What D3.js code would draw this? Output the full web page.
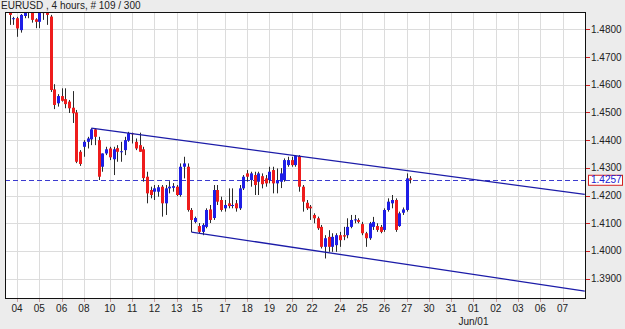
<!DOCTYPE html>
<meta charset="utf-8">
<style>
  body { margin: 0; background: #ececec; }
  svg { display: block; font-family: "Liberation Sans", Arial, sans-serif; }
  .grid line { stroke: #dcdcdc; stroke-width: 1; shape-rendering: crispEdges; }
  .lbl { font-size: 10px; fill: #222; }
</style>
<svg width="625" height="329"></svg>
<script src="https://cdn.jsdelivr.net/npm/d3@7"></script>
<script>
// 4h bars, values
var open = [1.4880,1.4838,1.4840,1.4797,1.4848,1.4862,1.4870,1.4836,1.4827,1.4862,1.4870,1.4846,
  1.4583,1.4533,1.4559,1.4548,1.4539,1.4517,1.4500,1.4358,1.4376,1.4394,1.4403,1.4439,1.4400,1.4304,
  1.4352,1.4370,1.4331,1.4371,1.4358,1.4364,1.4398,1.4425,1.4394,1.4382,1.4367,1.4268,1.4220,1.4214,
  1.4214,1.4232,1.4172,1.4226,1.4228,1.4232,1.4202,1.4304,1.4304,1.4148,1.4105,1.4090,1.4069,1.4087,
  1.4150,1.4119,1.4220,1.4184,1.4154,1.4172,1.4166,1.4172,1.4154,1.4226,1.4280,1.4256,1.4274,1.4250,
  1.4270,1.4262,1.4256,1.4292,1.4244,1.4250,1.4256,1.4310,1.4328,1.4310,1.4343,1.4232,1.4174,1.4160,
  1.4130,1.4118,1.4087,1.4015,1.4051,1.4015,1.4021,1.4057,1.4057,1.4057,1.4087,1.4112,1.4112,1.4097,
  1.4064,1.4046,1.4087,1.4090,1.4087,1.4076,1.4148,1.4172,1.4184,1.4090,1.4138,1.4148,1.4262];
var high = [1.4890,1.4845,1.4845,1.4855,1.4880,1.4875,1.4880,1.4840,1.4885,1.4880,1.4885,1.4852,
  1.4602,1.4566,1.4587,1.4587,1.4545,1.4577,1.4509,1.4364,1.4400,1.4412,1.4443,1.4443,1.4412,1.4352,
  1.4376,1.4376,1.4376,1.4382,1.4394,1.4412,1.4430,1.4427,1.4406,1.4427,1.4376,1.4286,1.4232,1.4238,
  1.4238,1.4238,1.4238,1.4252,1.4245,1.4238,1.4316,1.4340,1.4316,1.4155,1.4124,1.4101,1.4100,1.4154,
  1.4166,1.4238,1.4238,1.4196,1.4184,1.4226,1.4226,1.4184,1.4238,1.4274,1.4292,1.4286,1.4286,1.4286,
  1.4280,1.4274,1.4304,1.4304,1.4298,1.4299,1.4334,1.4340,1.4340,1.4346,1.4346,1.4238,1.4184,1.4166,
  1.4136,1.4124,1.4094,1.4057,1.4075,1.4064,1.4064,1.4069,1.4087,1.4118,1.4130,1.4130,1.4118,1.4105,
  1.4069,1.4105,1.4123,1.4100,1.4094,1.4154,1.4190,1.4202,1.4190,1.4142,1.4157,1.4280,1.4270];
var low = [1.4816,1.4816,1.4773,1.4788,1.4840,1.4840,1.4824,1.4804,1.4804,1.4834,1.4816,1.4574,
  1.4512,1.4521,1.4539,1.4515,1.4498,1.4462,1.4317,1.4307,1.4340,1.4370,1.4382,1.4382,1.4256,1.4286,
  1.4346,1.4328,1.4274,1.4322,1.4322,1.4346,1.4394,1.4388,1.4364,1.4358,1.4250,1.4172,1.4190,1.4184,
  1.4196,1.4124,1.4130,1.4208,1.4214,1.4198,1.4196,1.4262,1.4142,1.4068,1.4100,1.4064,1.4057,1.4082,
  1.4101,1.4112,1.4166,1.4142,1.4142,1.4154,1.4154,1.4142,1.4148,1.4220,1.4250,1.4232,1.4202,1.4202,
  1.4226,1.4232,1.4244,1.4208,1.4208,1.4227,1.4250,1.4304,1.4304,1.4304,1.4214,1.4142,1.4148,1.4112,
  1.4100,1.4076,1.4009,1.3973,1.3997,1.3997,1.3997,1.4015,1.4039,1.4046,1.4082,1.4100,1.4100,1.4057,
  1.4015,1.4040,1.4076,1.4069,1.4064,1.4069,1.4142,1.4154,1.4069,1.4087,1.4130,1.4142,1.4244];
var close = [1.4852,1.4840,1.4803,1.4852,1.4870,1.4863,1.4834,1.4827,1.4870,1.4860,1.4852,1.4581,
  1.4527,1.4559,1.4542,1.4530,1.4515,1.4497,1.4322,1.4314,1.4394,1.4406,1.4439,1.4412,1.4268,1.4352,
  1.4367,1.4338,1.4367,1.4358,1.4360,1.4400,1.4425,1.4423,1.4370,1.4358,1.4263,1.4208,1.4202,1.4226,
  1.4230,1.4172,1.4226,1.4232,1.4234,1.4202,1.4304,1.4316,1.4148,1.4112,1.4119,1.4069,1.4094,1.4148,
  1.4112,1.4220,1.4178,1.4148,1.4166,1.4162,1.4166,1.4154,1.4226,1.4268,1.4268,1.4280,1.4238,1.4280,
  1.4241,1.4244,1.4286,1.4244,1.4256,1.4280,1.4328,1.4328,1.4310,1.4343,1.4232,1.4178,1.4154,1.4154,
  1.4118,1.4082,1.4015,1.4046,1.4015,1.4051,1.4057,1.4039,1.4052,1.4087,1.4112,1.4114,1.4105,1.4064,
  1.4046,1.4100,1.4105,1.4076,1.4069,1.4148,1.4178,1.4184,1.4076,1.4136,1.4150,1.4262,1.4257];

var priceTicks = [1.39, 1.40, 1.41, 1.42, 1.43, 1.44, 1.45, 1.46, 1.47, 1.48];
var dayLabels = ["04","05","06","08","10","11","12","13","15","17","18","19","20","22","24","25","26","27","30","31","01","02","03","06","07"];
var dayBars   = [2, 8, 14, 20, 27, 33, 39, 45, 50.5, 58, 64, 70, 76, 81.5, 89, 95, 101, 107, 113, 119, 125, 131, 137, 143, 149];
var monthLabel = "Jun/01", monthBar = 125;
var lastPrice = 1.4257;
// channel lines: [bar, price]
var upperLine = [[22, 1.4443], [155, 1.4204]];
var lowerLine = [[49, 1.4068], [155, 1.3855]];

var svg = d3.select("svg");
var pLeft = 5, pRight = 585, pTop = 12, pBottom = 298;

var x = d3.scaleLinear().domain([0, 108]).range([9.7, 410.4]);
var y = d3.scaleLinear().domain([1.39, 1.48]).range([278.7, 29.3]);

svg.append("rect").attr("x", pLeft).attr("y", pTop).attr("width", pRight - pLeft).attr("height", pBottom - pTop).attr("fill", "#fff");

svg.append("defs").append("clipPath").attr("id", "plot")
  .append("rect").attr("x", pLeft).attr("y", pTop).attr("width", pRight - pLeft).attr("height", pBottom - pTop);

var grid = svg.append("g").attr("class", "grid");
grid.selectAll(".h").data(priceTicks).enter().append("line")
  .attr("x1", pLeft).attr("x2", pRight)
  .attr("y1", d => Math.round(y(d)) + 0.5).attr("y2", d => Math.round(y(d)) + 0.5);
grid.selectAll(".v").data(dayBars).enter().append("line")
  .attr("y1", pTop).attr("y2", pBottom)
  .attr("x1", d => Math.round(x(d)) + 0.5).attr("x2", d => Math.round(x(d)) + 0.5);

var plot = svg.append("g").attr("clip-path", "url(#plot)");

// last price dashed line
plot.append("line")
  .attr("x1", pLeft).attr("x2", pRight)
  .attr("y1", Math.round(y(lastPrice)) + 0.5).attr("y2", Math.round(y(lastPrice)) + 0.5)
  .attr("stroke", "#3b3bd0").attr("stroke-width", 1.2).attr("stroke-dasharray", "5,3");

var bars = d3.range(open.length);
var candle = plot.selectAll(".c").data(bars).enter().append("g");
candle.append("line")
  .attr("x1", i => Math.round(x(i)) + 0.5).attr("x2", i => Math.round(x(i)) + 0.5)
  .attr("y1", i => y(high[i])).attr("y2", i => y(low[i]))
  .attr("stroke", "#2a2a2a").attr("stroke-width", 1);
candle.append("rect")
  .attr("x", i => Math.round(x(i)) - 1)
  .attr("width", 3)
  .attr("y", i => y(Math.max(open[i], close[i])))
  .attr("height", i => Math.max(1, Math.abs(y(open[i]) - y(close[i]))))
  .attr("fill", i => close[i] >= open[i] ? "#1e1ee6" : "#ee1c1c");

var line = d3.line().x(d => x(d[0])).y(d => y(d[1]));
plot.selectAll(".tl").data([upperLine, lowerLine]).enter().append("path")
  .attr("d", line).attr("fill", "none")
  .attr("stroke", "#1c1ca8").attr("stroke-width", 1.3);

// frame
svg.append("rect").attr("x", pLeft + 0.5).attr("y", pTop + 0.5)
  .attr("width", pRight - pLeft).attr("height", pBottom - pTop)
  .attr("fill", "none").attr("stroke", "#111");

// price axis
var yAxis = svg.append("g");
yAxis.selectAll("line").data(priceTicks).enter().append("line")
  .attr("x1", pRight + 1).attr("x2", pRight + 5)
  .attr("y1", d => Math.round(y(d)) + 0.5).attr("y2", d => Math.round(y(d)) + 0.5)
  .attr("stroke", "#d02020");
yAxis.selectAll("text").data(priceTicks).enter().append("text")
  .attr("class", "lbl")
  .attr("x", pRight + 6).attr("y", d => y(d) + 3.5)
  .text(d => d.toFixed(4));

// last price box
svg.append("rect").attr("x", 588.5).attr("y", y(lastPrice) - 4.5)
  .attr("width", 34).attr("height", 10)
  .attr("fill", "#fff").attr("stroke", "#d42020");
svg.append("text").attr("class", "lbl").attr("x", 591).attr("y", y(lastPrice) + 3.6)
  .style("fill", "#2020d0").text(lastPrice.toFixed(4));

// time axis
var xAxis = svg.append("g");
xAxis.selectAll("line").data(dayBars).enter().append("line")
  .attr("x1", d => Math.round(x(d)) + 0.5).attr("x2", d => Math.round(x(d)) + 0.5)
  .attr("y1", pBottom + 1).attr("y2", pBottom + 4)
  .attr("stroke", "#c8a0a0");
xAxis.selectAll("text").data(dayBars).enter().append("text")
  .attr("class", "lbl").attr("text-anchor", "middle")
  .attr("x", d => x(d)).attr("y", 312)
  .text((d, i) => dayLabels[i]);
xAxis.append("text").attr("class", "lbl").attr("text-anchor", "middle")
  .attr("x", x(monthBar)).attr("y", 325).text(monthLabel);

svg.append("text").attr("class", "lbl").attr("x", 1).attr("y", 9)
  .text("EURUSD , 4 hours, # 109 / 300");
</script>
